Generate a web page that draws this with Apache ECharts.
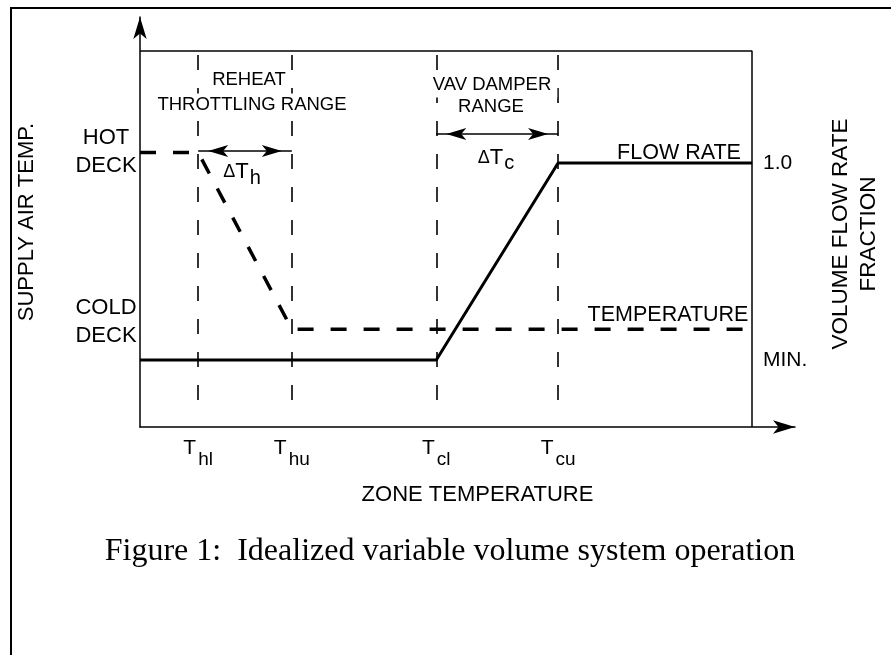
<!DOCTYPE html>
<html>
<head>
<meta charset="utf-8">
<script src="https://cdn.jsdelivr.net/npm/echarts@6/dist/echarts.min.js"></script>
<style>
  html, body { margin: 0; padding: 0; background: #fff; }
  #chart { width: 891px; height: 655px; }
</style>
</head>
<body>
<div id="chart"></div>
<script>
// zone temperature break points (T_hl, T_hu, T_cl, T_cu), plot box is 0..100
const tickValues = [9.5, 24.8, 48.4, 68.3];
const tickSubs = ['hl', 'hu', 'cl', 'cu'];

// supply air temperature (dashed)
const tempX = [0, 9.5, 24.8, 98.5];
const tempY = [73, 73, 26, 26];

// volume flow rate fraction (solid)
const flowX = [0, 48.4, 68.3, 100];
const flowY = [17.8, 17.8, 70.2, 70.2];

// left / right axis labels
const deckValues = [73, 26];
const deckLabels = ['HOT\nDECK', 'COLD\nDECK'];
const flowTickValues = [70.2, 17.8];
const flowTickLabels = ['1.0', 'MIN.'];

// range arrows: [from, to, level, subscript]
const rangeArrows = [
  [9.5, 24.8, 73.4, 'h'],
  [48.4, 68.3, 77.9, 'c']
];

const guideTop = 98.9;
const guideBottom = 5;

const font = 'Arial, "Liberation Sans", sans-serif';
const chart = echarts.init(document.getElementById('chart'));

const pairs = (xs, ys) => xs.map((x, i) => [x, ys[i]]);

chart.setOption({
  animation: false,
  backgroundColor: '#fff',
  grid: { left: 140, top: 17, width: 655, height: 410, outerBoundsMode: 'none', containLabel: false },
  xAxis: {
    type: 'value', min: 0, max: 107,
    splitLine: { show: false },
    axisTick: { show: false },
    axisLine: {
      lineStyle: { color: '#000', width: 1.5 },
      symbol: ['none', 'arrow'], symbolSize: [10, 22]
    },
    axisLabel: {
      customValues: tickValues,
      margin: 1,
      formatter: v => '{t|T}{s|' + tickSubs[tickValues.indexOf(v)] + '}',
      rich: {
        t: { fontFamily: font, fontSize: 21, color: '#000' },
        s: { fontFamily: font, fontSize: 19, color: '#000', padding: [22, 0, 0, 2] }
      }
    },
    name: 'ZONE TEMPERATURE',
    nameLocation: 'middle',
    nameGap: 57,
    nameTextStyle: { fontFamily: font, fontSize: 22, color: '#000', padding: [0, 0, 0, 20] }
  },
  yAxis: [{
    type: 'value', min: 0, max: 109,
    splitLine: { show: false },
    axisTick: { show: false },
    axisLine: {
      lineStyle: { color: '#000', width: 1.5 },
      symbol: ['none', 'arrow'], symbolSize: [10, 22]
    },
    axisLabel: {
      customValues: deckValues,
      margin: 3,
      formatter: v => {
        const i = deckValues.indexOf(v);
        const lines = deckLabels[i].split('\n').map(s => '{' + (i ? 'c' : 'd') + '|' + s + '}');
        return lines.join('\n');
      },
      rich: {
        d: { fontFamily: font, fontSize: 22, color: '#000', width: 62, align: 'center', lineHeight: 28 },
        c: { fontFamily: font, fontSize: 22, color: '#000', width: 62, align: 'center', lineHeight: 28, padding: [0, 0, 14, 0] }
      }
    },
    name: 'SUPPLY AIR TEMP.',
    nameLocation: 'middle',
    nameRotate: 90,
    nameGap: 102,
    nameTextStyle: { fontFamily: font, fontSize: 22, color: '#000' }
  }, {
    type: 'value', min: 0, max: 109,
    position: 'right',
    offset: -43,
    splitLine: { show: false },
    axisTick: { show: false },
    axisLine: { show: false },
    axisLabel: {
      customValues: flowTickValues,
      margin: 11,
      fontFamily: font, fontSize: 21, color: '#000',
      formatter: v => flowTickLabels[flowTickValues.indexOf(v)]
    },
    name: 'VOLUME FLOW RATE\nFRACTION',
    nameLocation: 'middle',
    nameRotate: 90,
    nameGap: 75,
    nameTextStyle: { fontFamily: font, fontSize: 22.5, color: '#000', lineHeight: 28, padding: [0, 24, 24, 0] }
  }],
  series: [
    {
      name: 'frame',
      type: 'line',
      data: [],
      silent: true,
      markLine: {
        silent: true, symbol: 'none', animation: false,
        label: { show: false },
        lineStyle: { color: '#000', width: 1.5, type: 'solid' },
        data: [
          [{ coord: [0, 100] }, { coord: [100, 100] }],
          [{ coord: [100, 0] }, { coord: [100, 100] }]
        ]
      }
    },
    {
      name: 'guides',
      type: 'line',
      data: [],
      silent: true,
      z: 1,
      markLine: {
        silent: true, symbol: 'none', animation: false,
        label: { show: false },
        lineStyle: { color: '#000', width: 1.6, type: [15, 18] },
        data: tickValues.map(x => [{ coord: [x, guideTop] }, { coord: [x, guideBottom] }])
      }
    },
    {
      name: 'ranges',
      type: 'line',
      data: [],
      silent: true,
      markLine: {
        silent: true, animation: false,
        symbol: ['arrow', 'arrow'], symbolSize: [9, 20], symbolOffset: [[0, 10], [0, 10]],
        label: { show: false },
        lineStyle: { color: '#000', width: 1.5, type: 'solid' },
        data: rangeArrows.map(a => [{ coord: [a[0], a[2]] }, { coord: [a[1], a[2]] }])
      }
    },
    {
      name: 'Temperature',
      type: 'line',
      data: pairs(tempX, tempY),
      symbol: 'none',
      z: 3,
      lineStyle: { color: '#000', width: 3.5, type: [16, 17] }
    },
    {
      name: 'Flow rate',
      type: 'line',
      data: pairs(flowX, flowY),
      symbol: 'none',
      z: 4,
      lineStyle: { color: '#000', width: 3, type: 'solid' }
    }
  ],
  graphic: [
    { type: 'rect', shape: { x: 11, y: 8, width: 1000, height: 1000 }, style: { fill: 'none', stroke: '#000', lineWidth: 2 }, z: 100 },
    { type: 'text', x: 249, y: 80, z: 50, style: { text: 'REHEAT', font: '18.5px ' + font, fill: '#000', align: 'center', verticalAlign: 'middle', backgroundColor: '#fff' } },
    { type: 'text', x: 252, y: 105, z: 50, style: { text: 'THROTTLING RANGE', font: '18.5px ' + font, fill: '#000', align: 'center', verticalAlign: 'middle', backgroundColor: '#fff', padding: [2, 0, 2, 0] } },
    { type: 'text', x: 492, y: 85, z: 50, style: { text: 'VAV DAMPER', font: '18.5px ' + font, fill: '#000', align: 'center', verticalAlign: 'middle', backgroundColor: '#fff', padding: [3, 6, 3, 6] } },
    { type: 'text', x: 491, y: 107, z: 50, style: { text: 'RANGE', font: '18.5px ' + font, fill: '#000', align: 'center', verticalAlign: 'middle', backgroundColor: '#fff' } },
    { type: 'text', x: 242, y: 172, z: 50, style: {
      text: '{d|\u0394}{t|T}{s|' + rangeArrows[0][3] + '}', align: 'center', verticalAlign: 'middle',
      rich: {
        d: { fontFamily: font, fontSize: 18, fill: '#000' },
        t: { fontFamily: font, fontSize: 22, fill: '#000' },
        s: { fontFamily: font, fontSize: 20, fill: '#000', padding: [12, 0, 0, 1] }
      } } },
    { type: 'text', x: 496, y: 158, z: 50, style: {
      text: '{d|\u0394}{t|T}{s|' + rangeArrows[1][3] + '}', align: 'center', verticalAlign: 'middle',
      rich: {
        d: { fontFamily: font, fontSize: 18, fill: '#000' },
        t: { fontFamily: font, fontSize: 22, fill: '#000' },
        s: { fontFamily: font, fontSize: 20, fill: '#000', padding: [10, 0, 0, 1] }
      } } },
    { type: 'text', x: 679, y: 153, z: 50, style: { text: 'FLOW RATE', font: '21.5px ' + font, fill: '#000', align: 'center', verticalAlign: 'middle' } },
    { type: 'text', x: 668, y: 315, z: 50, style: { text: 'TEMPERATURE', font: '21.5px ' + font, fill: '#000', align: 'center', verticalAlign: 'middle' } },
    { type: 'text', x: 450, y: 552, z: 50, style: { text: 'Figure 1:  Idealized variable volume system operation', font: '32px "Liberation Serif", "Times New Roman", serif', fill: '#000', align: 'center', verticalAlign: 'middle' } }
  ]
});
</script>
</body>
</html>
